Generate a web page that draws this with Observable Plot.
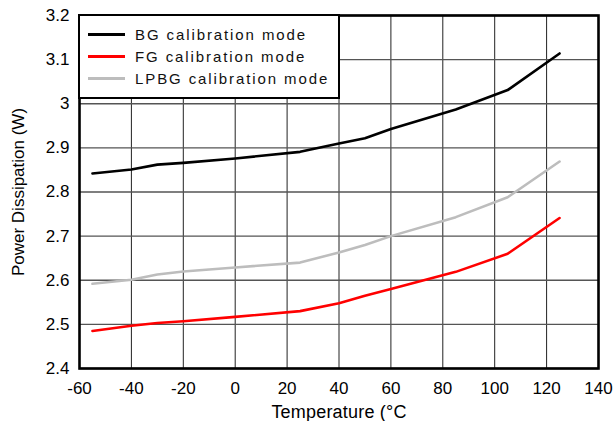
<!DOCTYPE html>
<html>
<head>
<meta charset="utf-8">
<script src="https://cdn.jsdelivr.net/npm/d3@7"></script>
<script src="https://cdn.jsdelivr.net/npm/@observablehq/plot@0.6"></script>
<style>
  html, body { margin: 0; padding: 0; background: white; }
  #wrap { position: relative; width: 613px; height: 421px; font-family: "Liberation Sans", Arial, Helvetica, sans-serif; }
  #legend { position: absolute; left: 78px; top: 14px; width: 262px; height: 85px; box-sizing: border-box;
            border: 2px solid black; background: white; padding-top: 8px; }
  .row { display: flex; align-items: center; height: 21.7px; font-size: 15px; letter-spacing: 1.9px; color: #111; }
  .sw { display: inline-block; width: 37px; height: 3px; margin-left: 8px; margin-right: 10px; }
  g[aria-label="x-axis label"] text { font-size: 18px; letter-spacing: 0.2px; }
</style>
</head>
<body>
<div id="wrap"><div id="legend"></div></div>
<script>
// Data
const temps = [-55, -40, -30, -20, 0, 25, 40, 50, 60, 85, 105, 125];
const bgMode = [2.842, 2.851, 2.862, 2.866, 2.876, 2.891, 2.910, 2.922, 2.943, 2.987, 3.031, 3.114];
const fgMode = [2.485, 2.497, 2.503, 2.507, 2.517, 2.530, 2.548, 2.565, 2.580, 2.619, 2.660, 2.741];
const lpbgMode = [2.592, 2.601, 2.613, 2.620, 2.629, 2.640, 2.663, 2.680, 2.700, 2.743, 2.788, 2.869];

const seriesNames = ["BG calibration mode", "FG calibration mode", "LPBG calibration mode"];
const seriesColors = ["#000000", "#ff0000", "#bdbdbd"];

const xTicks = [-60, -40, -20, 0, 20, 40, 60, 80, 100, 120, 140];
const xTickLabels = ["-60", "-40", "-20", "0", "20", "40", "60", "80", "100", "120", "140"];
const yTicks = [2.4, 2.5, 2.6, 2.7, 2.8, 2.9, 3.0, 3.1, 3.2];
const yTickLabels = ["2.4", "2.5", "2.6", "2.7", "2.8", "2.9", "3", "3.1", "3.2"];

const xLabel = "Temperature (°C";
const yLabel = "Power Dissipation (W)";

const seriesValues = [bgMode, fgMode, lpbgMode];
const rows = [];
seriesValues.forEach((vals, s) => {
  vals.forEach((v, i) => rows.push({series: seriesNames[s], t: temps[i], p: v}));
});

const chart = Plot.plot({
  width: 613,
  height: 421,
  marginLeft: 79,
  marginRight: 15,
  marginTop: 15,
  marginBottom: 53,
  style: {fontFamily: "'Liberation Sans', Arial, Helvetica, sans-serif", fontSize: "17px", color: "black", background: "white"},
  x: {domain: [-60, 140]},
  y: {domain: [2.4, 3.2]},
  color: {domain: seriesNames, range: seriesColors},
  marks: [
    Plot.gridX(xTicks, {stroke: "#222", strokeOpacity: 1, strokeWidth: 1}),
    Plot.gridY(yTicks, {stroke: "#555", strokeOpacity: 1, strokeWidth: 1.3}),
    Plot.line(rows, {x: "t", y: "p", z: "series", stroke: "series", strokeWidth: 2.6}),
    Plot.frame({stroke: "black", strokeWidth: 2.6}),
    Plot.axisX(xTicks, {tickSize: 0, tickPadding: 13,
      tickFormat: (d) => xTickLabels[xTicks.indexOf(d)],
      label: xLabel, labelAnchor: "center", labelOffset: 49, labelArrow: "none"}),
    Plot.axisY(yTicks, {tickSize: 0, tickPadding: 10,
      tickFormat: (d) => yTickLabels[yTicks.indexOf(d)],
      label: yLabel, labelAnchor: "center", labelOffset: 68, labelArrow: "none"})
  ]
});

const wrap = document.getElementById("wrap");
wrap.insertBefore(chart, wrap.firstChild);

const legend = document.getElementById("legend");
seriesNames.forEach((name, i) => {
  const row = document.createElement("div");
  row.className = "row";
  const sw = document.createElement("span");
  sw.className = "sw";
  sw.style.background = seriesColors[i];
  const tx = document.createElement("span");
  tx.textContent = name;
  row.appendChild(sw);
  row.appendChild(tx);
  legend.appendChild(row);
});
</script>
</body>
</html>
